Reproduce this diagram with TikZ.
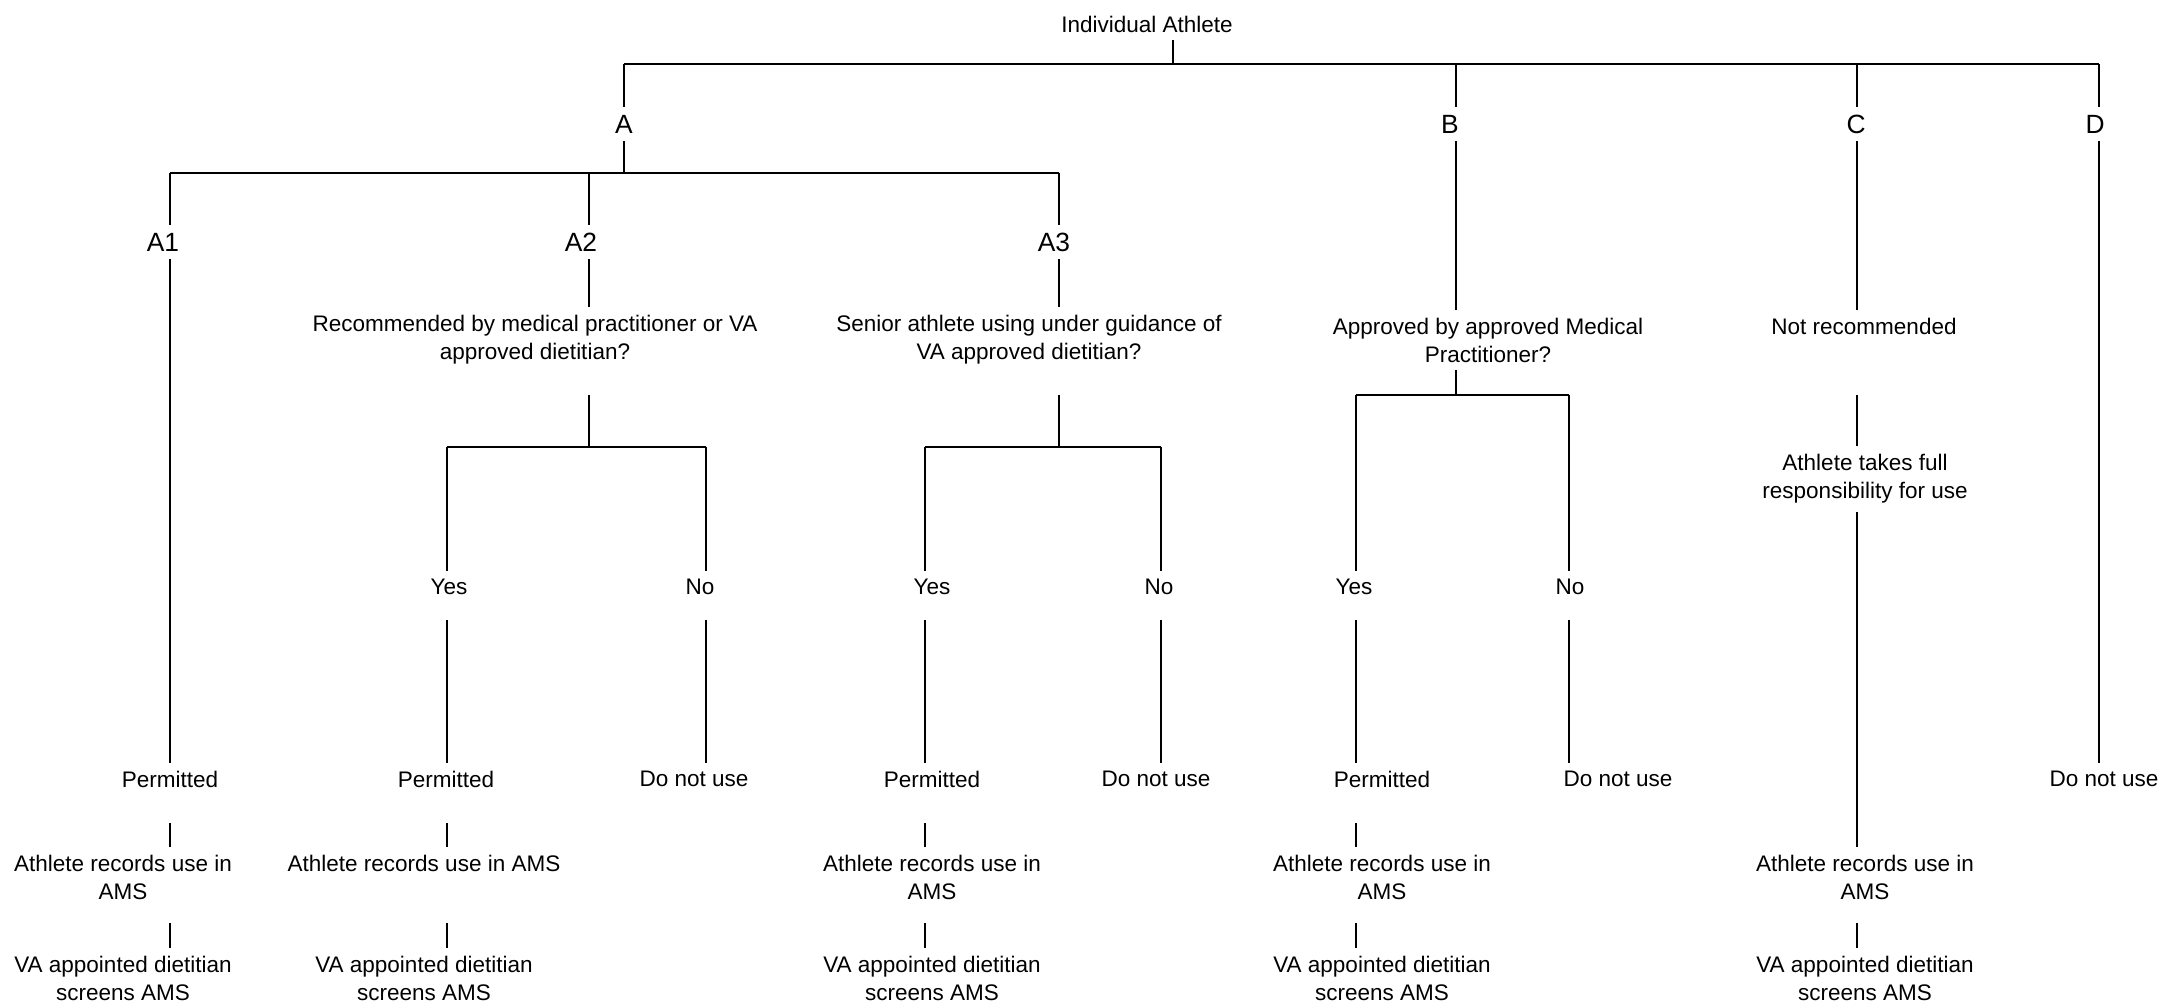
\documentclass[tikz,border=0pt]{standalone}
\usepackage{fontspec}
\setmainfont{Liberation Sans}
\usetikzlibrary{positioning}
\tikzset{branch/.style={font=\fontsize{7.5pt}{9pt}\selectfont,inner sep=0.07cm}}
\tikzset{note/.style={font=\fontsize{6.4pt}{7.97pt}\selectfont,align=center,inner sep=0.07cm}}
\tikzset{link/.style={line width=0.6pt}}

\begin{document}
\begin{tikzpicture}[x=0.01cm,y=0.01cm,link]
\useasboundingbox (0,0) rectangle (2164,-1003);

%columns and bar levels
\coordinate (cRoot) at (1173,0);
\coordinate (cA) at (624,0);
\coordinate (cB) at (1456,0);
\coordinate (cC) at (1857,0);
\coordinate (cD) at (2099,0);
\coordinate (cAone) at (170,0);
\coordinate (cAtwo) at (589,0);
\coordinate (cAthree) at (1059,0);
\coordinate (cYtwo) at (447,0);
\coordinate (cNtwo) at (706,0);
\coordinate (cYthree) at (925,0);
\coordinate (cNthree) at (1161,0);
\coordinate (cYb) at (1356,0);
\coordinate (cNb) at (1569,0);
\coordinate (yTop) at (0,-64);
\coordinate (yA) at (0,-173);
\coordinate (yQ) at (0,-447);
\coordinate (yB) at (0,-395);

\node[note] (athlete) at (1147,-24) {Individual Athlete};

\node[branch] (a) at (624,-124) {A};
\node[branch] (b) at (1450,-124) {B};
\node[branch] (c) at (1856,-124) {C};
\node[branch] (d) at (2095,-124) {D};

\node[branch] (aone) at (163,-242) {A1};
\node[branch] (atwo) at (581,-242) {A2};
\node[branch] (athree) at (1054,-242) {A3};

\node[note] (qtwo) at (535,-340) {Recommended by medical practitioner or VA\\approved dietitian?};
\node[note] (qthree) at (1029,-340) {Senior athlete using under guidance of\\VA approved dietitian?};
\node[note] (qb) at (1488,-340) {Approved by approved Medical\\Practitioner?};
\node[note] (notrec) at (1864,-326) {Not recommended};
\node[note] (fullresp) at (1865,-479) {Athlete takes full\\responsibility for use};

\node[note] (yestwo) at (449,-587) {Yes};
\node[note] (notwo) at (700,-587) {No};
\node[note] (yesthree) at (932,-587) {Yes};
\node[note] (nothree) at (1159,-587) {No};
\node[note] (yesb) at (1354,-587) {Yes};
\node[note] (nob) at (1570,-587) {No};

\node[note] (permone) at (170,-779) {Permitted};
\node[note] (permtwo) at (446,-779) {Permitted};
\node[note] (dontwo) at (694,-779) {Do not use};
\node[note] (permthree) at (932,-779) {Permitted};
\node[note] (donthree) at (1156,-779) {Do not use};
\node[note] (permb) at (1382,-779) {Permitted};
\node[note] (donb) at (1618,-779) {Do not use};
\node[note] (dond) at (2104,-779) {Do not use};

\node[note] (recone) at (123,-877) {Athlete records use in\\AMS};
\node[note] (rectwo) at (424,-863) {Athlete records use in AMS};
\node[note] (recthree) at (932,-877) {Athlete records use in\\AMS};
\node[note] (recb) at (1382,-877) {Athlete records use in\\AMS};
\node[note] (recc) at (1865,-877) {Athlete records use in\\AMS};

\node[note] (vaone) at (123,-978) {VA appointed dietitian\\screens AMS};
\node[note] (vatwo) at (424,-978) {VA appointed dietitian\\screens AMS};
\node[note] (vathree) at (932,-978) {VA appointed dietitian\\screens AMS};
\node[note] (vab) at (1382,-978) {VA appointed dietitian\\screens AMS};
\node[note] (vac) at (1865,-978) {VA appointed dietitian\\screens AMS};

%top level
\draw (athlete.south -| cRoot) -- (cRoot |- yTop);
\draw (cA |- yTop) -- (cD |- yTop);
\draw (cA |- yTop) -- (a.north -| cA) (cB |- yTop) -- (b.north -| cB)
      (cC |- yTop) -- (c.north -| cC) (cD |- yTop) -- (d.north -| cD);

%branch A
\draw (a.south -| cA) -- (cA |- yA);
\draw (cAone |- yA) -- (cAthree |- yA);
\draw (cAone |- yA) -- (aone.north -| cAone) (cAtwo |- yA) -- (atwo.north -| cAtwo)
      (cAthree |- yA) -- (athree.north -| cAthree);

\draw (aone.south -| cAone) -- (permone.north -| cAone);
\draw ([yshift=-0.28cm]permone.south -| cAone) -- (recone.north -| cAone);
\draw ([yshift=-0.16cm]recone.south -| cAone) -- (vaone.north -| cAone);

\draw (atwo.south -| cAtwo) -- (qtwo.north -| cAtwo);
\draw ([yshift=-0.22cm]qtwo.south -| cAtwo) -- (cAtwo |- yQ);
\draw (cYtwo |- yQ) -- (cNtwo |- yQ);
\draw (cYtwo |- yQ) -- (yestwo.north -| cYtwo) (cNtwo |- yQ) -- (notwo.north -| cNtwo);
\draw ([yshift=-0.17cm]yestwo.south -| cYtwo) -- (permtwo.north -| cYtwo);
\draw ([yshift=-0.17cm]notwo.south -| cNtwo) -- (dontwo.north -| cNtwo);
\draw ([yshift=-0.28cm]permtwo.south -| cYtwo) -- (rectwo.north -| cYtwo);
\draw ([yshift=-0.44cm]rectwo.south -| cYtwo) -- (vatwo.north -| cYtwo);

\draw (athree.south -| cAthree) -- (qthree.north -| cAthree);
\draw ([yshift=-0.22cm]qthree.south -| cAthree) -- (cAthree |- yQ);
\draw (cYthree |- yQ) -- (cNthree |- yQ);
\draw (cYthree |- yQ) -- (yesthree.north -| cYthree) (cNthree |- yQ) -- (nothree.north -| cNthree);
\draw ([yshift=-0.17cm]yesthree.south -| cYthree) -- (permthree.north -| cYthree);
\draw ([yshift=-0.17cm]nothree.south -| cNthree) -- (donthree.north -| cNthree);
\draw ([yshift=-0.28cm]permthree.south -| cYthree) -- (recthree.north -| cYthree);
\draw ([yshift=-0.16cm]recthree.south -| cYthree) -- (vathree.north -| cYthree);

%branch B
\draw (b.south -| cB) -- (qb.north -| cB);
\draw (qb.south -| cB) -- (cB |- yB);
\draw (cYb |- yB) -- (cNb |- yB);
\draw (cYb |- yB) -- (yesb.north -| cYb) (cNb |- yB) -- (nob.north -| cNb);
\draw ([yshift=-0.17cm]yesb.south -| cYb) -- (permb.north -| cYb);
\draw ([yshift=-0.17cm]nob.south -| cNb) -- (donb.north -| cNb);
\draw ([yshift=-0.28cm]permb.south -| cYb) -- (recb.north -| cYb);
\draw ([yshift=-0.16cm]recb.south -| cYb) -- (vab.north -| cYb);

%branch C
\draw (c.south -| cC) -- (notrec.north -| cC);
\draw ([yshift=-0.53cm]notrec.south -| cC) -- (fullresp.north -| cC);
\draw (fullresp.south -| cC) -- (recc.north -| cC);
\draw ([yshift=-0.16cm]recc.south -| cC) -- (vac.north -| cC);

%branch D
\draw (d.south -| cD) -- (dond.north -| cD);

\end{tikzpicture}
\end{document}
